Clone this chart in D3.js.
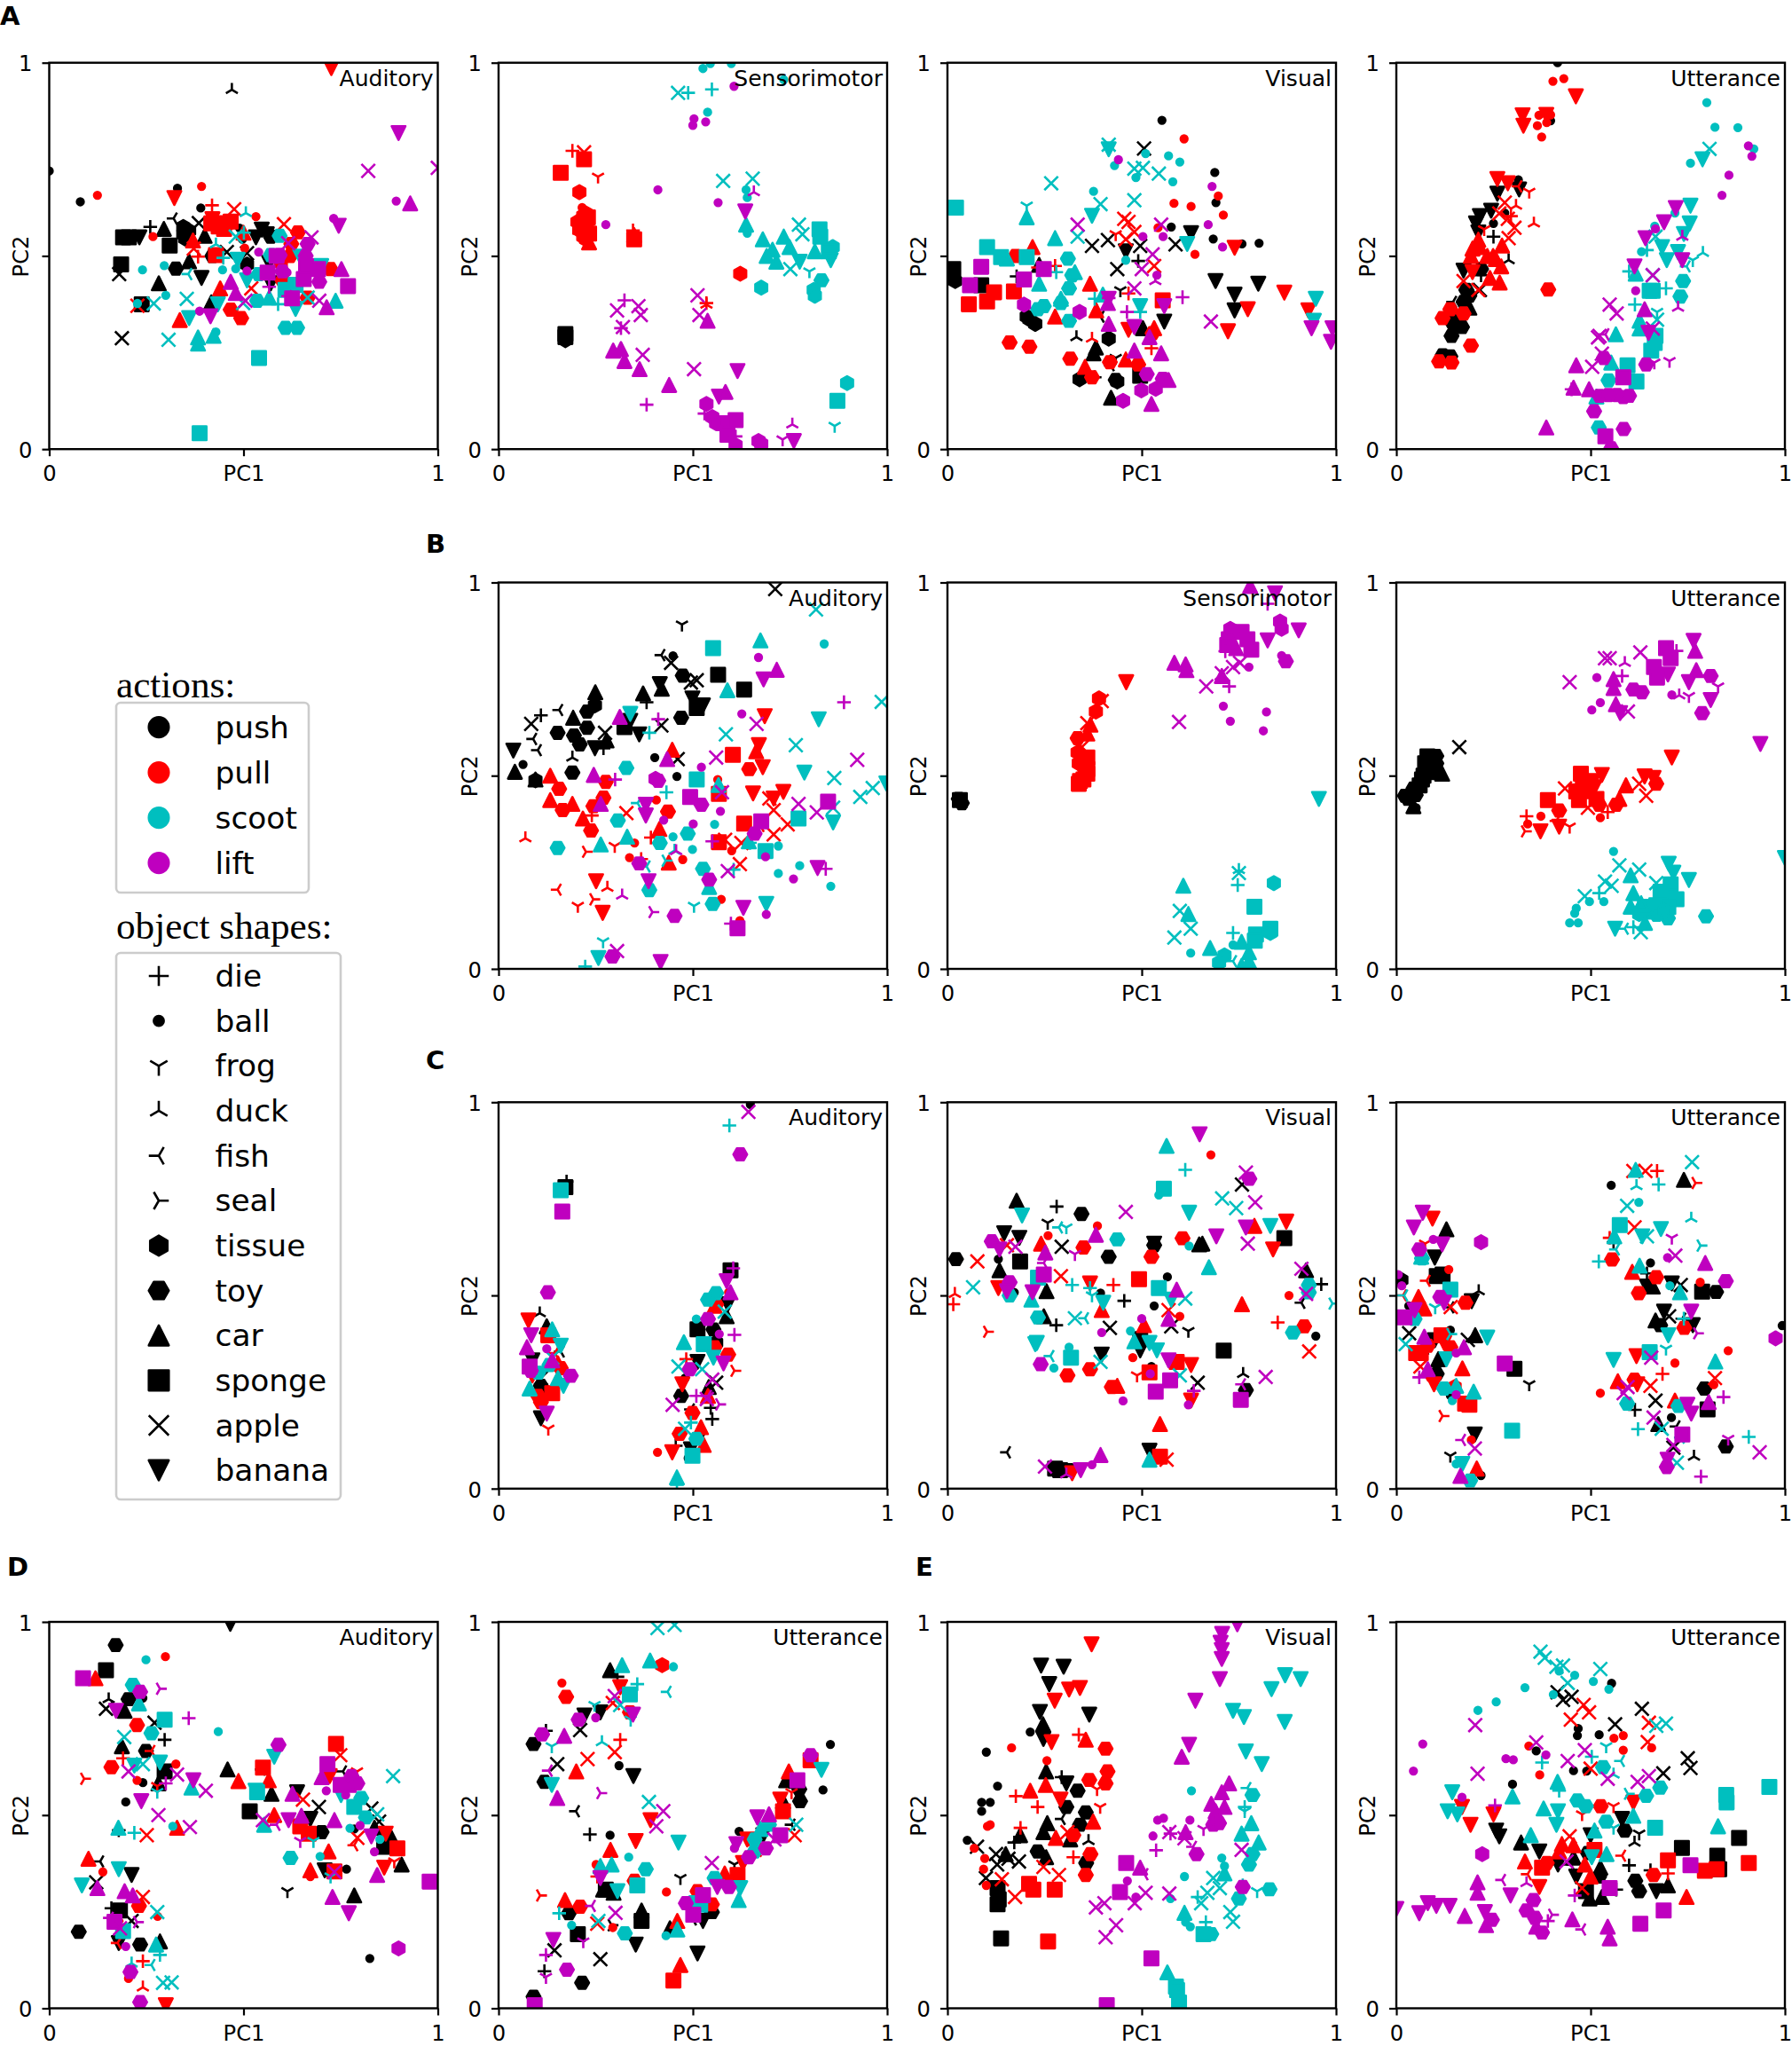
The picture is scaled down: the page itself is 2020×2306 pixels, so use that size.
<!DOCTYPE html>
<html><head><meta charset="utf-8">
<script src="https://cdnjs.cloudflare.com/ajax/libs/d3/7.8.5/d3.min.js"></script>
<style>html,body{margin:0;padding:0;background:#fff}svg{display:block}text{font-family:"DejaVu Sans",sans-serif;fill:#000}</style>
</head><body><div id="chart"></div>
<script>
const actionNames=["push","pull","scoot","lift"];
const actionColors=["#000000","#ff0000","#00bfbf","#bf00bf"];
const shapeNames=["die","ball","frog","duck","fish","seal","tissue","toy","car","sponge","apple","banana"];
const shapeCodes=["+","o","1","2","3","4","h","H","^","s","x","v"];
const axisTicks=[0,.5,1];

const A1_push=[["o",0,.72],["o",.08,.64],["o",.33,.675],["o",.39,.624],["2",.47,.93],["+",.26,.575],["^",.295,.57],["3",.32,.597],["h",.345,.575],["h",.345,.556],["h",.36,.565],["h",.35,.545],["H",.57,.55],["s",.19,.548],["s",.205,.548],["v",.232,.548],["s",.31,.527],["s",.185,.478],["x",.18,.453],["H",.326,.467],["^",.36,.486],["^",.282,.429],["v",.392,.443],["s",.238,.375],["x",.187,.287],["^",.417,.38],["x",.385,.585],["^",.40,.552],["o",.467,.58],["o",.49,.572],["o",.497,.543],["x",.457,.51],["x",.509,.507],["H",.42,.50],["h",.509,.478],["v",.547,.568],["v",.532,.548],["v",.56,.556],["v",.57,.429],["v",.566,.482]];
const A1_pull=[["o",.124,.657],["o",.392,.68],["o",.267,.55],["o",.532,.602],["o",.503,.52],["v",.322,.65],["v",.726,.986],["+",.419,.631],["x",.476,.621],["s",.417,.584],["s",.436,.576],["s",.467,.589],["s",.44,.585],["s",.45,.57],["H",.62,.50],["v",.42,.595],["+",.383,.498],["x",.372,.519],["s",.429,.502],["^",.44,.416],["^",.336,.334],["H",.467,.361],["H",.494,.339],["x",.227,.371],["x",.604,.582],["H",.64,.561],["H",.623,.531],["h",.596,.482],["H",.60,.437],["H",.724,.466],["x",.52,.416],["H",.665,.392],["^",.37,.54],["^",.5,.56]];
const A1_scoot=[["o",.24,.464],["o",.296,.475],["o",.30,.398],["o",.446,.464],["o",.48,.467],["o",.227,.377],["o",.429,.303],["2",.506,.611],["3",.358,.453],["x",.269,.377],["x",.354,.389],["x",.307,.283],["v",.36,.339],["v",.434,.375],["^",.383,.289],["^",.383,.273],["^",.423,.293],["s",.54,.236],["s",.387,.041],["H",.593,.552],["H",.57,.502],["H",.539,.453],["H",.535,.384],["H",.608,.314],["H",.638,.314],["v",.646,.498],["v",.509,.437],["^",.566,.392],["^",.737,.384],["s",.608,.412],["s",.634,.425],["v",.634,.363],["v",.70,.474],["x",.499,.378],["+",.589,.375],["x",.665,.392],["+",.501,.56],["x",.48,.55],["2",.429,.53],["+",.448,.495],["v",.485,.49]];
const A1_lift=[["v",.899,.818],["x",.821,.72],["x",1,.728],["o",.893,.642],["^",.929,.636],["o",.732,.597],["v",.745,.578],["H",.665,.531],["x",.675,.548],["H",.593,.502],["H",.66,.50],["s",.585,.50],["H",.6,.46],["s",.655,.44],["x",.615,.533],["s",.661,.474],["s",.692,.466],["H",.695,.433],["^",.752,.466],["s",.769,.422],["^",.714,.367],["x",.695,.384],["^",.467,.433],["^",.48,.404],["x",.505,.384],["o",.509,.461],["o",.539,.51],["o",.612,.457],["v",.415,.344],["o",.387,.357],["+",.566,.42],["3",.615,.396],["s",.625,.39],["s",.562,.457]];

const A2_push=[["s",.172,.29],["s",.172,.298],["h",.172,.282]];
const A2_pull=[["+",.19,.772],["x",.22,.768],["s",.22,.75],["s",.16,.715],["1",.256,.705],["h",.208,.665],["o",.215,.625],["s",.22,.588],["h",.218,.604],["h",.203,.588],["s",.225,.573],["h",.211,.565],["s",.233,.558],["h",.225,.543],["^",.233,.535],["h",.218,.55],["h",.225,.61],["s",.21,.575],["s",.23,.6],["^",.349,.554],["+",.346,.566],["s",.349,.543],["h",.622,.454],["2",.535,.374],["+",.535,.378]];
const A2_scoot=[["o",.526,.985],["o",.545,.998],["o",.599,.998],["o",.734,.956],["x",.462,.922],["+",.488,.922],["+",.549,.931],["o",.538,.872],["x",.578,.694],["x",.654,.70],["o",.637,.671],["o",.64,.651],["^",.637,.581],["o",.64,.559],["^",.68,.543],["^",.734,.55],["x",.773,.581],["x",.782,.556],["s",.826,.569],["s",.828,.55],["h",.86,.523],["^",.749,.523],["^",.705,.516],["^",.69,.50],["^",.814,.512],["s",.85,.512],["v",.855,.489],["^",.715,.485],["x",.751,.466],["v",.775,.485],["1",.80,.46],["H",.831,.437],["h",.811,.412],["h",.814,.397],["h",.676,.418],["s",.872,.125],["h",.897,.171],["1",.865,.06]];
const A2_lift=[["o",.606,.939],["o",.503,.855],["o",.533,.847],["o",.50,.838],["o",.41,.671],["o",.276,.581],["o",.565,.638],["2",.657,.665],["v",.635,.615],["x",.512,.398],["x",.305,.359],["+",.324,.385],["x",.36,.37],["x",.366,.347],["x",.517,.347],["^",.538,.332],["x",.32,.316],["+",.315,.313],["^",.295,.255],["^",.315,.259],["x",.371,.244],["^",.324,.228],["^",.363,.207],["x",.503,.207],["v",.615,.202],["^",.439,.166],["+",.381,.115],["^",.584,.148],["v",.567,.136],["h",.535,.117],["+",.53,.092],["s",.61,.075],["s",.581,.067],["h",.55,.083],["h",.56,.067],["s",.589,.037],["+",.61,.033],["h",.61,.01],["h",.669,.021],["h",.676,.014],["1",.731,.025],["v",.76,.021],["2",.756,.064]];

const A3_push=[["o",.552,.851],["o",.688,.716],["o",.691,.638],["o",.684,.544],["o",.576,.575],["o",.758,.531],["o",.802,.533],["x",.506,.778],["v",.627,.559],["x",.587,.53],["x",.372,.526],["x",.413,.541],["x",.496,.526],["v",.459,.512],["x",.437,.466],["+",.491,.487],["1",.445,.411],["v",.69,.435],["v",.739,.40],["v",.80,.428],["v",.739,.359],["v",.558,.33],["s",.015,.466],["s",.007,.45],["h",.02,.435],["s",.087,.424],["+",.178,.447],["^",.236,.477],["h",.211,.336],["h",.226,.324],["h",.204,.343],["2",.332,.29],["^",.382,.263],["h",.415,.286],["^",.376,.248],["1",.433,.236],["3",.42,.217],["h",.34,.181],["+",.379,.186],["H",.433,.179],["h",.437,.175],["^",.421,.133],["s",.496,.19],["^",.503,.313],["3",.394,.343]];
const A3_pull=[["o",.609,.803],["o",.697,.655],["o",.583,.636],["o",.627,.628],["o",.71,.606],["o",.542,.573],["o",.637,.504],["v",.739,.521],["x",.455,.596],["x",.466,.588],["x",.481,.562],["x",.459,.543],["1",.433,.556],["x",.532,.474],["+",.233,.47],["+",.277,.474],["^",.219,.523],["H",.175,.50],["s",.12,.406],["s",.102,.382],["s",.171,.408],["s",.055,.375],["^",.367,.428],["+",.466,.403],["v",.867,.405],["v",.773,.362],["v",.722,.305],["v",.929,.359],["H",.16,.276],["H",.211,.265],["^",.277,.343],["^",.383,.359],["H",.316,.234],["^",.354,.213],["^",.459,.232],["H",.491,.219],["H",.418,.225],["H",.372,.186],["2",.372,.286],["+",.525,.261],["s",.554,.385],["v",.466,.309],["^",.532,.313],["H",.528,.30]];
const A3_scoot=[["s",.022,.625],["s",.102,.523],["s",.138,.497],["s",.204,.497],["^",.153,.493],["x",.267,.688],["1",.204,.63],["^",.204,.60],["^",.277,.546],["v",.372,.604],["x",.394,.634],["x",.335,.55],["o",.376,.667],["v",.415,.776],["x",.415,.788],["o",.43,.734],["o",.51,.765],["o",.569,.759],["o",.598,.743],["o",.485,.703],["x",.481,.726],["x",.503,.728],["x",.544,.713],["o",.58,.692],["x",.481,.644],["v",.617,.531],["H",.31,.493],["H",.321,.45],["^",.328,.458],["^",.236,.428],["+",.28,.458],["H",.313,.416],["^",.292,.389],["H",.292,.378],["H",.248,.37],["H",.233,.362],["H",.313,.332],["+",.379,.389],["^",.40,.40],["v",.496,.37],["+",.496,.355],["o",.459,.489],["v",.948,.389],["v",.943,.332]];
const A3_lift=[["o",.44,.749],["o",.681,.68],["o",.671,.581],["o",.555,.55],["o",.503,.55],["o",.708,.523],["x",.335,.581],["x",.55,.581],["x",.528,.504],["x",.50,.466],["x",.481,.416],["2",.535,.435],["o",.539,.45],["s",.087,.472],["s",.248,.466],["s",.058,.424],["s",.197,.439],["h",.197,.374],["h",.34,.355],["^",.413,.378],["v",.415,.389],["+",.415,.391],["+",.605,.393],["x",.678,.33],["+",.462,.355],["v",.481,.316],["^",.415,.324],["^",.52,.29],["^",.481,.255],["^",.55,.248],["H",.513,.194],["h",.499,.152],["h",.536,.156],["H",.554,.182],["^",.569,.179],["h",.452,.125],["^",.525,.117],["v",.558,.37],["v",.937,.313],["v",.991,.313],["v",.987,.278]];

const A4_push=[["o",.415,1],["o",.397,.85],["o",.314,.697],["v",.316,.672],["v",.26,.661],["v",.244,.617],["v",.215,.603],["v",.205,.584],["v",.211,.561],["o",.279,.611],["o",.25,.584],["+",.25,.55],["2",.289,.489],["v",.173,.462],["H",.218,.466],["+",.218,.45],["H",.18,.412],["H",.188,.397],["H",.173,.381],["3",.146,.381],["^",.188,.366],["^",.15,.351],["H",.146,.324],["H",.169,.316],["H",.142,.293],["H",.119,.243],["H",.139,.24],["x",.215,.412]];
const A4_pull=[["o",.431,.959],["o",.403,.952],["v",.462,.913],["v",.325,.864],["v",.327,.837],["v",.386,.865],["o",.367,.864],["o",.397,.865],["o",.363,.837],["o",.387,.845],["o",.374,.808],["v",.26,.699],["v",.287,.688],["3",.314,.68],["1",.342,.666],["x",.279,.638],["2",.308,.63],["x",.265,.61],["2",.354,.584],["+",.295,.603],["x",.287,.596],["1",.226,.569],["x",.304,.573],["x",.289,.546],["^",.211,.542],["^",.196,.519],["^",.215,.523],["^",.192,.50],["^",.234,.50],["^",.249,.50],["^",.272,.527],["^",.256,.492],["^",.27,.473],["^",.241,.443],["^",.266,.431],["x",.173,.435],["x",.211,.412],["v",.196,.458],["H",.391,.413],["H",.192,.268],["H",.142,.224],["H",.11,.227],["H",.119,.339],["H",.139,.362],["H",.173,.351]];
const A4_scoot=[["o",.799,.897],["o",.82,.833],["o",.879,.832],["o",.92,.777],["o",.757,.74],["x",.806,.777],["v",.788,.75],["v",.757,.63],["v",.755,.584],["v",.74,.557],["o",.717,.611],["o",.665,.577],["x",.667,.55],["+",.645,.515],["o",.631,.511],["v",.684,.523],["v",.725,.51],["v",.696,.489],["2",.789,.508],["1",.763,.489],["3",.747,.473],["+",.599,.46],["^",.616,.454],["x",.66,.45],["+",.694,.416],["s",.652,.41],["s",.66,.41],["H",.738,.435],["H",.731,.395],["+",.614,.374],["1",.671,.355],["x",.671,.335],["^",.626,.332],["^",.626,.312],["s",.667,.293],["s",.656,.255],["^",.565,.297],["^",.553,.224],["s",.595,.217],["s",.618,.175],["H",.546,.178],["^",.515,.136],["H",.521,.056],["s",.665,.275]];
const A4_lift=[["o",.906,.785],["o",.915,.758],["o",.856,.709],["o",.838,.657],["v",.719,.624],["v",.689,.587],["2",.736,.55],["v",.641,.546],["o",.667,.57],["v",.736,.489],["v",.613,.473],["x",.66,.45],["o",.616,.41],["x",.549,.374],["x",.567,.351],["2",.725,.366],["^",.639,.362],["x",.66,.312],["v",.649,.301],["x",.519,.289],["x",.523,.293],["3",.538,.297],["x",.529,.247],["H",.534,.236],["^",.463,.217],["x",.504,.213],["H",.643,.219],["1",.703,.228],["1",.664,.224],["^",.456,.159],["^",.496,.155],["+",.451,.155],["H",.523,.138],["H",.546,.14],["H",.568,.14],["H",.584,.135],["H",.599,.138],["s",.584,.186],["H",.509,.098],["^",.386,.056],["H",.585,.052],["s",.538,.033],["H",.553,.002]];

const B1_push=[["x",.712,.983],["1",.472,.891],["o",.449,.81],["3",.419,.812],["x",.444,.792],["H",.474,.759],["x",.51,.747],["x",.495,.741],["s",.565,.761],["s",.632,.723],["v",.415,.737],["^",.42,.725],["^",.372,.713],["+",.381,.69],["v",.499,.70],["v",.526,.682],["s",.51,.675],["H",.47,.65],["^",.249,.716],["h",.248,.682],["H",.228,.666],["^",.192,.65],["3",.156,.67],["+",.109,.656],["x",.084,.634],["H",.228,.624],["H",.152,.611],["H",.194,.604],["H",.209,.581],["x",.274,.611],["^",.278,.591],["s",.324,.626],["v",.339,.642],["v",.362,.607],["x",.419,.63],["v",.248,.571],["3",.089,.595],["3",.101,.566],["+",.27,.571],["v",.038,.565],["o",.063,.529],["o",.402,.547],["o",.459,.498],["x",.461,.543],["^",.042,.51],["h",.095,.488],["^",.095,.49],["H",.19,.508],["2",.19,.547]];
const B1_pull=[["v",.685,.654],["v",.67,.579],["^",.663,.563],["s",.603,.554],["H",.645,.517],["v",.68,.522],["^",.447,.567],["^",.133,.50],["H",.156,.466],["H",.276,.484],["H",.27,.443],["^",.133,.437],["^",.19,.427],["H",.165,.411],["H",.244,.421],["+",.24,.397],["^",.217,.389],["H",.238,.358],["x",.329,.403],["o",.406,.437],["H",.436,.407],["^",.414,.362],["+",.392,.34],["o",.35,.326],["o",.337,.288],["+",.367,.284],["o",.474,.283],["^",.438,.275],["2",.069,.338],["1",.299,.318],["4",.225,.303],["v",.251,.227],["2",.28,.21],["3",.152,.205],["4",.244,.18],["1",.204,.163],["v",.268,.145],["o",.564,.49],["s",.567,.453],["v",.655,.454],["x",.697,.441],["v",.708,.441],["v",.733,.458],["x",.708,.411],["x",.744,.374],["s",.632,.376],["3",.674,.37],["x",.708,.348],["s",.567,.328],["x",.625,.326],["x",.583,.334],["x",.621,.271],["o",.60,.306],["o",.573,.18],["o",.621,.125]];
const B1_scoot=[["x",.817,.93],["o",.838,.841],["^",.674,.85],["s",.552,.83],["^",.589,.721],["v",.824,.646],["x",.986,.691],["x",.585,.607],["x",.765,.579],["v",.787,.508],["x",.864,.494],["x",.931,.445],["x",.963,.468],["v",.998,.48],["x",.861,.417],["v",.861,.379],["s",.772,.389],["H",.329,.52],["s",.51,.49],["^",.566,.476],["H",.307,.384],["^",.331,.342],["H",.152,.313],["^",.263,.322],["v",.339,.66],["+",.388,.611],["+",.432,.457],["3",.358,.429],["o",.556,.374],["o",.449,.342],["H",.487,.35],["H",.415,.326],["o",.499,.309],["s",.687,.305],["^",.644,.33],["+",.647,.326],["o",.72,.318],["o",.775,.267],["o",.72,.247],["o",.855,.214],["H",.526,.259],["+",.605,.257],["^",.542,.212],["H",.388,.204],["3",.381,.265],["4",.43,.28],["1",.503,.163],["H",.551,.168],["v",.689,.168],["1",.269,.071],["v",.257,.028],["+",.223,.006],["2",.453,.306]];
const B1_lift=[["o",.669,.806],["^",.716,.774],["v",.682,.749],["o",.626,.66],["x",.664,.634],["^",.312,.652],["+",.889,.69],["+",.411,.646],["^",.434,.543],["x",.56,.547],["o",.522,.522],["x",.923,.541],["^",.245,.502],["h",.404,.492],["H",.411,.487],["s",.493,.445],["H",.522,.425],["v",.379,.425],["v",.379,.397],["^",.263,.427],["o",.425,.385],["o",.501,.375],["o",.571,.408],["x",.575,.457],["x",.772,.427],["s",.848,.433],["x",.819,.405],["s",.676,.382],["H",.659,.35],["+",.55,.33],["2",.457,.305],["H",.362,.273],["o",.687,.29],["v",.386,.227],["H",.542,.231],["x",.59,.253],["o",.759,.233],["v",.821,.261],["+",.842,.259],["2",.318,.19],["4",.396,.147],["H",.453,.137],["v",.63,.158],["o",.689,.141],["+",.598,.117],["s",.615,.105],["x",.305,.046],["H",.293,.032],["v",.417,.018],["+",.3,.49]];

const B2_push=[["H",.029,.44],["H",.037,.429],["s",.032,.437]];
const B2_pull=[["v",.46,.742],["x",.397,.693],["h",.382,.666],["^",.368,.632],["x",.36,.636],["^",.36,.609],["H",.335,.597],["x",.346,.574],["s",.36,.547],["h",.338,.532],["s",.36,.517],["s",.355,.53],["h",.335,.56],["s",.35,.49],["s",.341,.486],["s",.36,.505],["s",.338,.479],["h",.39,.70]];
const B2_scoot=[["v",.956,.44],["x",.75,.248],["2",.75,.256],["h",.84,.222],["+",.747,.217],["^",.607,.215],["s",.79,.161],["x",.598,.15],["^",.62,.142],["x",.626,.104],["x",.584,.081],["s",.831,.104],["h",.831,.093],["s",.794,.089],["s",.791,.073],["+",.735,.093],["o",.735,.062],["^",.757,.07],["^",.676,.054],["o",.626,.041],["h",.713,.035],["h",.699,.016],["3",.735,.02],["^",.776,.043],["^",.776,.02],["^",.757,.008]];
const B2_lift=[["^",.779,.991],["v",.843,.972],["+",.824,.945],["v",.904,.876],["h",.856,.899],["h",.86,.88],["v",.824,.85],["s",.724,.853],["h",.728,.88],["s",.757,.872],["s",.72,.838],["s",.782,.826],["^",.743,.83],["s",.772,.853],["+",.715,.822],["H",.871,.796],["o",.86,.811],["^",.584,.792],["^",.613,.788],["^",.615,.773],["x",.753,.792],["x",.735,.781],["o",.776,.781],["x",.706,.765],["^",.706,.758],["x",.666,.731],["+",.725,.731],["o",.71,.68],["o",.821,.665],["o",.728,.641],["o",.813,.616],["x",.596,.639]];

const B3_push=[["x",.162,.574],["s",.081,.544],["s",.074,.532],["H",.103,.551],["H",.103,.532],["s",.088,.509],["^",.118,.505],["s",.066,.49],["H",.044,.467],["H",.022,.448],["o",.051,.417],["^",.044,.421],["H",.03,.44],["s",.08,.55],["s",.095,.52],["s",.07,.5],["s",.06,.475],["H",.09,.53],["H",.05,.45]];
const B3_pull=[["v",.709,.547],["s",.475,.505],["v",.529,.502],["s",.5,.486],["s",.48,.48],["s",.49,.46],["v",.51,.47],["v",.639,.498],["v",.662,.494],["H",.669,.479],["^",.591,.475],["x",.643,.448],["x",.625,.479],["^",.574,.44],["H",.566,.425],["x",.434,.467],["s",.463,.459],["s",.47,.437],["s",.515,.44],["H",.522,.425],["x",.493,.417],["+",.544,.406],["o",.525,.391],["s",.39,.437],["H",.419,.41],["o",.372,.395],["+",.335,.395],["o",.338,.375],["v",.371,.356],["v",.419,.368],["3",.412,.383],["1",.446,.368],["4",.331,.356]];
const B3_scoot=[["v",1,.287],["o",.559,.304],["x",.574,.268],["x",.625,.257],["v",.701,.272],["v",.713,.249],["v",.753,.23],["^",.603,.242],["x",.537,.226],["x",.554,.215],["x",.669,.222],["+",.522,.196],["x",.485,.188],["o",.497,.174],["o",.534,.174],["o",.463,.157],["o",.459,.144],["o",.446,.119],["o",.468,.119],["^",.61,.196],["s",.706,.219],["s",.721,.18],["s",.669,.165],["H",.699,.131],["H",.656,.146],["^",.603,.161],["h",.625,.142],["s",.699,.188],["s",.64,.161],["s",.68,.2],["H",.67,.14],["^",.63,.17],["s",.7,.16],["H",.797,.136],["v",.563,.104],["3",.588,.104],["+",.61,.108],["^",.64,.119],["x",.629,.095],["h",.69,.15]];
const B3_lift=[["v",.937,.582],["v",.765,.849],["^",.769,.823],["s",.694,.83],["+",.721,.823],["s",.706,.804],["x",.628,.819],["x",.537,.804],["x",.549,.804],["2",.588,.792],["o",.516,.754],["+",.581,.758],["^",.559,.75],["s",.663,.781],["v",.699,.762],["s",.671,.754],["x",.446,.742],["^",.559,.727],["H",.61,.723],["H",.632,.716],["^",.772,.773],["H",.809,.758],["v",.753,.742],["1",.828,.731],["2",.728,.708],["1",.753,.706],["o",.709,.709],["v",.809,.696],["H",.787,.662],["o",.525,.689],["o",.503,.67],["^",.565,.685],["v",.576,.662],["x",.596,.666]];

const C1_push=[["2",.106,.454],["^",.124,.42],["v",.087,.332],["3",.16,.355],["x",.109,.286],["H",.109,.266],["v",.109,.182],["s",.172,.78],["+",.175,.795],["s",.597,.565],["o",.648,.994],["v",.59,.477],["^",.587,.446],["s",.512,.412],["H",.553,.412],["h",.56,.378],["v",.512,.328],["x",.56,.274],["^",.541,.263],["o",.48,.286],["H",.47,.24],["+",.546,.209],["+",.55,.18],["3",.495,.205],["+",.456,.111],["v",.495,.102],["o",.488,.079],["3",.524,.132]];
const C1_pull=[["v",.077,.435],["s",.128,.397],["3",.145,.351],["^",.153,.324],["H",.16,.312],["v",.087,.293],["s",.138,.247],["H",.102,.24],["H",.109,.224],["1",.128,.155],["o",.592,.508],["H",.56,.477],["^",.556,.473],["+",.483,.335],["o",.59,.347],["H",.556,.366],["H",.591,.347],["4",.607,.305],["v",.473,.27],["^",.539,.24],["H",.499,.196],["^",.521,.159],["H",.466,.142],["^",.528,.113],["o",.409,.094],["v",.447,.094]];
const C1_scoot=[["s",.16,.772],["+",.594,.94],["^",.138,.412],["v",.16,.37],["H",.131,.32],["x",.138,.339],["^",.08,.259],["v",.167,.266],["^",.153,.286],["H",.102,.30],["H",.56,.506],["H",.539,.489],["x",.582,.458],["o",.509,.439],["^",.477,.379],["s",.528,.374],["v",.553,.339],["x",.463,.316],["x",.524,.309],["+",.495,.171],["x",.48,.155],["H",.509,.129],["s",.499,.085],["^",.459,.029],["+",.459,.01]];
const C1_lift=[["x",.643,.975],["H",.622,.865],["s",.164,.717],["H",.127,.508],["v",.084,.397],["^",.073,.366],["o",.124,.362],["s",.08,.316],["^",.138,.332],["H",.186,.292],["H",.083,.305],["v",.124,.194],["+",.604,.57],["v",.587,.537],["^",.597,.508],["H",.539,.439],["+",.607,.398],["o",.568,.40],["v",.579,.324],["H",.492,.309],["x",.55,.282],["3",.539,.24],["x",.448,.217],["4",.568,.218],["+",.509,.24],["x",.536,.232]];

const C2_push=[["^",.178,.745],["+",.281,.73],["H",.345,.711],["1",.258,.688],["v",.146,.661],["v",.185,.649],["H",.022,.594],["o",.131,.594],["s",.187,.588],["^",.134,.565],["x",.294,.626],["H",.415,.6],["H",.532,.63],["v",.532,.634],["^",.656,.634],["^",.648,.632],["x",.758,.787],["s",.867,.648],["^",.923,.565],["+",.962,.529],["o",.566,.548],["o",.172,.508],["^",.255,.511],["o",.394,.506],["+",.455,.486],["o",.532,.473],["3",.911,.481],["o",.948,.395],["^",.248,.446],["+",.28,.423],["x",.418,.416],["x",.576,.42],["1",.62,.408],["s",.496,.387],["v",.496,.358],["v",.397,.347],["s",.711,.357],["o",.525,.316],["x",.644,.274],["2",.761,.297],["H",.768,.255],["3",.153,.094],["v",.52,.098],["s",.277,.052],["s",.29,.048],["H",.313,.048]];
const C2_pull=[["o",.678,.864],["v",.872,.691],["^",.79,.68],["v",.838,.619],["H",.605,.648],["H",.525,.6],["H",.35,.624],["^",.241,.634],["o",.259,.655],["o",.386,.68],["x",.077,.588],["x",.153,.63],["x",.292,.55],["s",.493,.542],["+",.427,.527],["v",.367,.531],["v",.131,.519],["2",.019,.504],["+",.015,.477],["o",.879,.5],["^",.758,.477],["+",.85,.43],["H",.918,.42],["x",.931,.355],["4",.102,.406],["^",.397,.462],["x",.569,.462],["o",.598,.446],["^",.506,.423],["o",.477,.339],["s",.52,.301],["s",.59,.328],["v",.627,.32],["H",.309,.293],["H",.367,.309],["1",.488,.293],["H",.423,.263],["^",.437,.266],["v",.627,.228],["^",.547,.167],["s",.547,.083],["x",.564,.075],["v",.321,.04]];
const C2_scoot=[["^",.564,.887],["+",.612,.825],["s",.557,.776],["o",.544,.76],["x",.707,.751],["x",.743,.726],["v",.622,.714],["v",.192,.707],["v",.831,.68],["1",.306,.676],["3",.287,.676],["H",.437,.645],["o",.622,.628],["^",.673,.573],["x",.066,.521],["s",.233,.546],["+",.321,.527],["+",.367,.519],["1",.372,.5],["H",.16,.5],["^",.216,.489],["s",.544,.519],["v",.576,.489],["x",.612,.492],["v",.401,.481],["H",.93,.527],["H",.93,.508],["4",.991,.479],["H",.233,.443],["x",.328,.441],["3",.354,.441],["H",.889,.404],["v",.23,.377],["v",.226,.374],["o",.313,.366],["s",.318,.339],["o",.274,.312],["3",.265,.343],["o",.471,.408],["^",.481,.381],["v",.52,.377],["v",.539,.358],["x",.394,.328],["x",.598,.293],["^",.52,.075]];
const C2_lift=[["v",.649,.917],["x",.768,.818],["H",.777,.802],["x",.792,.741],["x",.459,.716],["v",.768,.676],["x",.773,.634],["v",.692,.653],["^",.382,.657],["H",.114,.64],["v",.134,.619],["^",.252,.611],["x",.175,.626],["1",.328,.607],["3",.248,.584],["s",.248,.554],["H",.16,.534],["v",.153,.511],["v",.219,.508],["x",.911,.569],["x",.923,.504],["^",.59,.515],["^",.569,.439],["o",.5,.44],["o",.397,.404],["H",.24,.322],["o",.522,.297],["s",.573,.28],["s",.536,.251],["x",.819,.289],["+",.634,.253],["3",.758,.27],["s",.755,.23],["o",.452,.227],["o",.62,.217],["v",.569,.332],["x",.251,.057],["^",.394,.087],["o",.372,.062],["v",.343,.048],["2",.306,.037]];

const C3_push=[["^",.129,.671],["o",.553,.785],["^",.74,.799],["+",.559,.638],["o",.654,.584],["v",.099,.598],["s",.119,.554],["s",.104,.55],["h",.013,.54],["2",.212,.511],["o",.032,.473],["3",.139,.469],["v",.194,.485],["x",.033,.402],["v",.099,.384],["o",.139,.41],["x",.184,.385],["^",.203,.397],["3",.074,.362],["^",.108,.335],["H",.104,.297],["o",.139,.241],["s",.304,.31],["1",.342,.27],["+",.645,.557],["v",.709,.531],["x",.732,.527],["v",.645,.523],["^",.66,.523],["s",.787,.51],["H",.823,.509],["v",.689,.458],["x",.702,.446],["3",.736,.44],["^",.667,.435],["H",.679,.423],["v",.763,.423],["o",.993,.422],["H",.793,.259],["x",.667,.228],["+",.614,.204],["s",.801,.205],["o",.708,.184],["3",.721,.161],["^",.674,.167],["x",.713,.106],["H",.848,.109],["2",.766,.083],["v",.202,.14],["1",.139,.085],["o",.218,.034]];
const C3_pull=[["v",.093,.699],["1",.074,.634],["o",.135,.567],["3",.078,.538],["^",.057,.496],["3",.017,.5],["^",.072,.466],["H",.178,.481],["x",.14,.47],["s",.116,.397],["s",.051,.351],["s",.063,.351],["H",.081,.37],["v",.123,.377],["H",.139,.366],["x",.062,.316],["3",.074,.293],["^",.17,.311],["v",.097,.27],["h",.15,.263],["s",.188,.217],["s",.177,.22],["4",.119,.188],["o",.193,.126],["^",.207,.052],["x",.61,.822],["x",.641,.822],["+",.671,.822],["x",.613,.676],["+",.549,.649],["4",.77,.791],["H",.555,.593],["^",.607,.561],["H",.669,.547],["o",.782,.534],["H",.624,.506],["H",.741,.416],["v",.618,.343],["+",.685,.297],["o",.717,.325],["o",.854,.357],["x",.82,.286],["o",.817,.269],["x",.654,.266],["^",.57,.278],["H",.613,.282],["v",.62,.27],["o",.525,.247],["^",.717,.228]];
const C3_scoot=[["x",.761,.845],["^",.616,.825],["+",.675,.787],["2",.618,.783],["o",.624,.741],["x",.594,.732],["s",.575,.682],["2",.759,.699],["v",.681,.672],["x",.645,.653],["v",.633,.653],["^",.561,.653],["4",.783,.629],["+",.521,.588],["3",.565,.619],["^",.626,.577],["o",.704,.525],["^",.73,.508],["+",.74,.44],["v",.70,.397],["1",.694,.362],["s",.652,.353],["v",.559,.333],["^",.821,.329],["H",.594,.22],["H",.726,.214],["+",.622,.154],["x",.683,.155],["3",.732,.132],["+",.907,.134],["x",.722,.067],["s",.298,.15],["H",.066,.596],["^",.064,.6],["s",.139,.515],["3",.02,.5],["1",.10,.469],["H",.047,.439],["x",.024,.374],["4",.139,.40],["v",.129,.335],["^",.154,.266],["H",.123,.259],["^",.199,.251],["o",.144,.228],["v",.17,.064],["o",.154,.064],["H",.19,.021],["v",.234,.391]];
const C3_lift=[["v",.068,.714],["v",.045,.676],["o",.095,.645],["v",.118,.632],["H",.059,.619],["h",.218,.638],["o",.005,.554],["o",.014,.525],["H",.113,.496],["v",.123,.481],["s",.021,.443],["v",.047,.462],["^",.072,.393],["o",.154,.351],["^",.174,.366],["^",.081,.309],["+",.059,.288],["o",.154,.243],["s",.279,.324],["3",.169,.126],["x",.202,.104],["^",.165,.033],["o",.698,.598],["x",.718,.603],["^",.795,.584],["H",.848,.537],["v",.759,.458],["4",.774,.402],["h",.976,.389],["x",.656,.339],["x",.595,.263],["x",.585,.247],["+",.842,.237],["^",.804,.224],["s",.736,.14],["v",.749,.217],["v",.759,.194],["x",.662,.184],["1",.709,.649],["1",.854,.129],["x",.935,.094],["x",.713,.113],["+",.784,.031],["v",.698,.075],["H",.696,.056]];

const D1_push=[["v",.466,.995],["H",.171,.94],["s",.146,.875],["2",.153,.80],["H",.204,.80],["o",.241,.803],["x",.146,.775],["^",.194,.77],["x",.271,.739],["+",.297,.695],["^",.187,.678],["H",.249,.666],["s",.297,.613],["^",.281,.582],["o",.241,.584],["o",.197,.534],["^",.459,.618],["3",.547,.618],["^",.572,.555],["v",.638,.559],["s",.516,.51],["x",.694,.521],["v",.672,.49],["+",.179,.461],["H",.701,.456],["3",.756,.613],["x",.829,.517],["o",.785,.464],["^",.837,.467],["x",.849,.483],["^",.881,.441],["s",.862,.418],["^",.907,.372],["v",.709,.357],["o",.765,.36],["1",.613,.303],["^",.785,.292],["x",.121,.326],["3",.131,.38],["v",.212,.345],["+",.16,.259],["x",.212,.226],["s",.182,.253],["H",.076,.198],["v",.179,.169],["H",.234,.165],["^",.285,.173],["o",.825,.129]];
const D1_pull=[["o",.299,.91],["^",.119,.854],["H",.226,.733],["3",.263,.666],["+",.19,.647],["H",.16,.624],["o",.326,.632],["4",.09,.594],["o",.226,.59],["1",.278,.575],["s",.738,.684],["x",.749,.655],["s",.55,.623],["^",.565,.59],["^",.487,.588],["v",.722,.601],["o",.785,.594],["1",.792,.613],["x",.653,.54],["^",.579,.50],["s",.646,.471],["s",.668,.452],["x",.793,.441],["3",.785,.422],["v",.866,.452],["s",.896,.414],["^",.719,.406],["^",.672,.357],["o",.672,.341],["s",.734,.354],["v",.862,.364],["1",.888,.38],["x",.251,.448],["^",.329,.467],["^",.101,.387],["o",.138,.353],["x",.241,.288],["H",.231,.265],["o",.279,.238],["H",.171,.226],["3",.176,.169],["+",.241,.122],["o",.204,.077],["2",.241,.054],["v",.3,.008]];
const D1_scoot=[["o",.249,.902],["H",.215,.837],["^",.231,.789],["s",.297,.747],["H",.263,.712],["o",.435,.716],["x",.193,.702],["v",.219,.628],["x",.241,.632],["v",.285,.636],["^",.366,.571],["1",.278,.56],["v",.579,.651],["v",.531,.563],["s",.535,.559],["x",.885,.601],["v",.751,.552],["H",.803,.544],["s",.785,.521],["H",.815,.494],["x",.844,.502],["o",.774,.466],["o",.318,.471],["^",.178,.467],["+",.219,.454],["^",.553,.475],["o",.851,.437],["H",.621,.389],["o",.697,.393],["1",.68,.433],["1",.724,.341],["v",.179,.36],["v",.084,.318],["x",.278,.249],["s",.19,.20],["^",.275,.165],["+",.285,.138],["2",.212,.116],["3",.263,.112],["x",.293,.066],["x",.315,.067]];
const D1_lift=[["s",.087,.854],["H",.234,.819],["4",.285,.827],["v",.172,.77],["+",.359,.751],["x",.204,.613],["x",.329,.605],["v",.371,.59],["x",.403,.563],["+",.3,.582],["v",.237,.536],["x",.281,.50],["x",.362,.469],["H",.59,.682],["s",.716,.632],["^",.701,.598],["o",.713,.563],["s",.75,.578],["s",.771,.578],["H",.778,.601],["H",.793,.582],["o",.763,.552],["^",.626,.555],["x",.55,.487],["v",.616,.487],["3",.585,.475],["^",.649,.498],["^",.734,.487],["o",.8,.473],["v",.829,.445],["o",.837,.405],["1",.646,.433],["x",.734,.353],["^",.844,.345],["^",.729,.288],["v",.771,.246],["h",.899,.155],["s",.979,.328],["^",.124,.311],["^",.194,.303],["^",.215,.292],["4",.226,.223],["3",.156,.234],["s",.168,.224],["x",.182,.207],["o",.197,.16],["H",.209,.094],["H",.234,.016]];

const D2_push=[["^",.287,.875],["+",.306,.858],["v",.221,.758],["v",.262,.766],["+",.122,.718],["x",.21,.72],["H",.09,.684],["x",.151,.632],["o",.31,.628],["v",.347,.601],["H",.118,.586],["3",.199,.51],["+",.235,.45],["o",.287,.448],["1",.468,.337],["s",.276,.307],["^",.269,.307],["^",.296,.299],["H",.181,.246],["4",.291,.215],["^",.368,.253],["s",.368,.226],["s",.204,.192],["^",.441,.207],["v",.353,.165],["x",.144,.15],["+",.118,.096],["x",.262,.127],["H",.215,.066],["H",.09,.03],["v",.512,.142],["3",.5,.23],["v",.526,.226],["H",.549,.249],["o",.619,.458],["o",.854,.683],["o",.835,.565],["^",.74,.59],["H",.757,.586],["H",.774,.567],["H",.776,.536],["3",.754,.475],["^",.732,.536],["v",.681,.448],["1",.607,.372]];
const D2_pull=[["o",.163,.842],["H",.174,.806],["H",.338,.766],["v",.313,.831],["x",.294,.79],["o",.421,.888],["h",.421,.888],["+",.313,.695],["x",.299,.663],["x",.229,.645],["^",.2,.613],["v",.391,.487],["v",.353,.433],["^",.288,.41],["o",.251,.372],["+",.254,.341],["H",.35,.33],["o",.432,.301],["4",.107,.292],["^",.171,.28],["H",.21,.263],["x",.254,.219],["o",.294,.209],["^",.468,.112],["s",.45,.072],["^",.46,.226],["H",.512,.303],["H",.549,.269],["^",.582,.349],["s",.615,.345],["v",.629,.376],["x",.659,.41],["v",.725,.54],["s",.732,.51],["1",.754,.559],["^",.747,.613],["s",.803,.642],["x",.762,.448],["v",.64,.437]];
const D2_scoot=[["x",.409,.984],["x",.453,.992],["^",.39,.9],["^",.318,.888],["o",.45,.884],["+",.357,.839],["3",.435,.819],["s",.338,.812],["1",.247,.785],["x",.313,.785],["1",.34,.747],["1",.137,.678],["2",.266,.689],["v",.137,.578],["x",.387,.534],["v",.463,.429],["o",.335,.391],["H",.379,.36],["^",.262,.368],["^",.291,.372],["s",.357,.318],["v",.306,.303],["+",.156,.246],["o",.188,.215],["x",.257,.226],["H",.325,.194],["^",.46,.204],["o",.431,.188],["s",.509,.272],["s",.519,.268],["H",.556,.337],["^",.618,.28],["v",.622,.311],["H",.659,.406],["H",.659,.437],["^",.674,.464],["H",.696,.475],["x",.766,.475],["v",.831,.617]];
const D2_lift=[["s",.093,.008],["1",.122,.081],["+",.122,.138],["v",.141,.177],["H",.176,.1],["1",.218,.173],["3",.24,.265],["x",.301,.247],["4",.262,.557],["^",.151,.544],["3",.129,.615],["H",.112,.709],["^",.169,.705],["H",.206,.747],["o",.25,.752],["x",.299,.808],["v",.346,.76],["v",.262,.337],["x",.424,.51],["x",.406,.471],["x",.549,.376],["v",.563,.314],["H",.593,.314],["s",.526,.293],["s",.501,.242],["H",.482,.272],["v",.612,.425],["o",.607,.414],["H",.644,.391],["H",.688,.414],["x",.71,.437],["s",.725,.448],["v",.666,.494],["^",.696,.502],["s",.769,.59],["H",.803,.655]];

const E1_push=[["v",.241,.887],["v",.299,.884],["v",.262,.839],["v",.238,.767],["^",.246,.735],["o",.213,.715],["v",.365,.76],["v",.247,.697],["o",.1,.663],["^",.254,.613],["+",.294,.598],["v",.306,.582],["o",.129,.575],["o",.088,.533],["o",.11,.533],["o",.088,.51],["H",.335,.563],["H",.306,.521],["H",.356,.507],["H",.341,.475],["^",.257,.479],["^",.247,.456],["3",.294,.49],["o",.051,.435],["x",.076,.418],["^",.187,.448],["+",.172,.429],["2",.363,.433],["^",.316,.437],["^",.15,.399],["H",.232,.406],["^",.254,.391],["x",.125,.399],["x",.157,.387],["x",.184,.38],["x",.128,.372],["H",.357,.376],["x",.099,.337],["s",.129,.311],["s",.132,.282],["s",.129,.269],["s",.138,.181]];
const E1_pull=[["v",.371,.942],["v",.313,.825],["v",.341,.829],["v",.276,.796],["^",.356,.695],["+",.338,.708],["H",.407,.672],["v",.268,.689],["o",.165,.674],["o",.256,.641],["H",.412,.613],["H",.407,.582],["H",.365,.591],["^",.253,.578],["^",.213,.563],["+",.176,.549],["1",.385,.567],["v",.291,.54],["+",.232,.521],["1",.393,.521],["o",.11,.475],["o",.103,.471],["^",.375,.483],["x",.309,.456],["H",.324,.448],["^",.279,.441],["o",.069,.414],["+",.188,.467],["H",.368,.399],["+",.324,.391],["o",.096,.388],["x",.247,.366],["x",.287,.345],["H",.356,.345],["o",.093,.36],["o",.1,.318],["x",.14,.334],["s",.21,.322],["s",.221,.307],["s",.276,.307],["x",.174,.288],["s",.259,.173]];
const E1_scoot=[["v",.869,.862],["v",.909,.852],["v",.834,.826],["v",.735,.77],["v",.763,.754],["v",.868,.741],["v",.768,.665],["v",.809,.632],["o",.628,.563],["H",.785,.552],["^",.782,.479],["^",.757,.452],["+",.765,.521],["1",.765,.51],["^",.801,.429],["3",.772,.57],["H",.785,.399],["H",.776,.372],["o",.706,.389],["o",.713,.368],["^",.713,.349],["o",.61,.341],["x",.684,.337],["x",.701,.311],["x",.669,.299],["+",.644,.288],["x",.653,.272],["1",.797,.303],["H",.829,.308],["H",.75,.284],["+",.76,.318],["o",.574,.284],["^",.61,.247],["o",.613,.223],["o",.625,.211],["x",.728,.249],["x",.735,.224],["+",.665,.223],["H",.662,.192],["H",.679,.192],["s",.659,.192],["^",.566,.093],["s",.588,.056],["s",.591,.047],["s",.596,.015]];
const E1_lift=[["v",.746,.994],["v",.707,.969],["v",.703,.946],["v",.706,.927],["v",.706,.904],["v",.701,.852],["v",.638,.796],["v",.622,.682],["^",.603,.651],["^",.725,.582],["^",.706,.559],["^",.679,.529],["^",.713,.521],["^",.69,.51],["H",.684,.475],["H",.699,.479],["o",.624,.487],["o",.541,.487],["o",.556,.492],["1",.659,.464],["^",.613,.456],["x",.571,.456],["+",.574,.452],["o",.529,.446],["x",.61,.44],["+",.537,.409],["3",.632,.418],["H",.641,.399],["x",.757,.41],["3",.507,.347],["^",.496,.364],["s",.46,.376],["o",.463,.33],["x",.51,.299],["x",.571,.297],["s",.444,.301],["o",.485,.288],["x",.482,.272],["x",.404,.272],["x",.382,.261],["x",.434,.215],["x",.407,.184],["s",.525,.129],["s",.41,.008],["H",.76,.314]];

const E2_push=[["o",.554,.841],["x",.415,.818],["x",.429,.798],["x",.451,.806],["x",.632,.775],["x",.563,.735],["o",.468,.724],["o",.466,.706],["o",.522,.708],["o",.36,.666],["o",.456,.615],["o",.49,.614],["x",.75,.647],["x",.757,.622],["x",.687,.608],["o",.299,.58],["v",.581,.49],["H",.588,.46],["1",.625,.452],["2",.613,.429],["v",.5,.448],["v",.257,.46],["v",.265,.445],["s",.735,.415],["^",.321,.429],["v",.368,.406],["H",.493,.402],["v",.416,.372],["s",.826,.395],["s",.831,.36],["s",.882,.441],["^",.525,.364],["+",.599,.37],["v",.463,.341],["^",.456,.39],["H",.522,.341],["H",.615,.33],["H",.625,.303],["v",.669,.303],["^",.699,.318],["+",.654,.357],["s",.488,.303],["^",.497,.284],["^",.529,.288],["+",.566,.307],["3",.449,.372]];
const E2_pull=[["x",.482,.785],["x",.449,.747],["x",.496,.766],["x",.65,.739],["o",.584,.706],["o",.56,.699],["o",.341,.679],["x",.647,.689],["o",.584,.668],["o",.657,.674],["o",.369,.604],["x",.5,.62],["v",.169,.521],["v",.25,.502],["v",.191,.475],["H",.526,.523],["v",.61,.533],["1",.559,.523],["1",.478,.502],["x",.446,.445],["^",.426,.425],["^",.456,.422],["s",.51,.41],["3",.581,.395],["^",.331,.38],["H",.387,.376],["s",.375,.364],["^",.419,.406],["^",.485,.372],["s",.699,.383],["v",.368,.314],["H",.662,.345],["+",.699,.349],["3",.338,.347],["s",.794,.356],["s",.824,.36],["s",.907,.376],["^",.747,.288],["^",.5,.341],["x",.478,.311]];
const E2_scoot=[["x",.371,.923],["x",.382,.907],["x",.412,.884],["x",.429,.887],["o",.419,.873],["o",.459,.862],["x",.525,.878],["o",.507,.846],["x",.441,.842],["o",.331,.83],["o",.404,.812],["o",.547,.826],["o",.257,.793],["o",.21,.771],["x",.669,.731],["x",.694,.737],["1",.54,.678],["+",.503,.651],["+",.375,.636],["H",.532,.624],["3",.578,.64],["2",.559,.605],["^",.415,.586],["+",.419,.563],["H",.679,.571],["H",.643,.55],["4",.596,.555],["v",.144,.559],["^",.299,.548],["v",.132,.51],["v",.157,.502],["^",.379,.517],["v",.416,.51],["H",.466,.538],["H",.488,.523],["^",.61,.498],["v",.412,.475],["H",.54,.483],["1",.559,.467],["^",.51,.46],["s",.666,.467],["s",.849,.552],["s",.85,.533],["s",.96,.573],["^",.828,.471],["^",.346,.448],["^",.541,.399],["v",.503,.391]];
const E2_lift=[["o",.068,.684],["x",.203,.733],["o",.044,.614],["o",.282,.646],["o",.301,.643],["o",.385,.656],["x",.36,.688],["x",.209,.607],["x",.441,.64],["x",.485,.668],["x",.544,.594],["x",.621,.586],["x",.65,.601],["o",.169,.546],["+",.254,.525],["h",.221,.399],["3",.272,.332],["2",.335,.324],["^",.209,.326],["^",.209,.299],["v",.294,.292],["+",.459,.292],["s",.549,.311],["s",.757,.37],["s",.688,.253],["s",.628,.219],["v",0,.257],["v",.059,.246],["v",.081,.272],["v",.103,.265],["v",.137,.265],["^",.176,.239],["v",.228,.249],["H",.246,.229],["^",.231,.215],["H",.353,.28],["H",.335,.253],["H",.357,.234],["^",.36,.211],["H",.375,.196],["4",.401,.242],["+",.39,.226],["^",.453,.23],["3",.478,.204],["^",.544,.211],["^",.549,.181],["x",.438,.38]];

const panelTable=[
 [0,0,"Auditory",[A1_push,A1_pull,A1_scoot,A1_lift]],
 [0,1,"Sensorimotor",[A2_push,A2_pull,A2_scoot,A2_lift]],
 [0,2,"Visual",[A3_push,A3_pull,A3_scoot,A3_lift]],
 [0,3,"Utterance",[A4_push,A4_pull,A4_scoot,A4_lift]],
 [1,1,"Auditory",[B1_push,B1_pull,B1_scoot,B1_lift]],
 [1,2,"Sensorimotor",[B2_push,B2_pull,B2_scoot,B2_lift]],
 [1,3,"Utterance",[B3_push,B3_pull,B3_scoot,B3_lift]],
 [2,1,"Auditory",[C1_push,C1_pull,C1_scoot,C1_lift]],
 [2,2,"Visual",[C2_push,C2_pull,C2_scoot,C2_lift]],
 [2,3,"Utterance",[C3_push,C3_pull,C3_scoot,C3_lift]],
 [3,0,"Auditory",[D1_push,D1_pull,D1_scoot,D1_lift]],
 [3,1,"Utterance",[D2_push,D2_pull,D2_scoot,D2_lift]],
 [3,2,"Visual",[E1_push,E1_pull,E1_scoot,E1_lift]],
 [3,3,"Utterance",[E2_push,E2_pull,E2_scoot,E2_lift]]
];
const letterTable=[["A",0,28],["B",480,623],["C",480,1205],["D",8,1776],["E",1032,1776]];

const W=2020,H=2306;
const colX=[55.5,562,1068,1574], rowY=[70.7,656.5,1242.3,1828], pw=438, ph=435.5;
const MS=15.4, LW=2.6;
const FS=24.2;

function polygon(n,r,rot){const p=d3.path();for(let i=0;i<n;i++){const a=rot+i*2*Math.PI/n;const x=r*Math.sin(a),y=-r*Math.cos(a);i?p.lineTo(x,y):p.moveTo(x,y);}p.closePath();return p.toString();}
function spokes(r,rot){const p=d3.path();for(let i=0;i<3;i++){const a=rot+i*2*Math.PI/3;p.moveTo(0,0);p.lineTo(r*Math.sin(a),-r*Math.cos(a));}return p.toString();}
function markerPath(code,ms){
  const r=ms/2,p=d3.path();
  switch(code){
    case "+":p.moveTo(-r,0);p.lineTo(r,0);p.moveTo(0,-r);p.lineTo(0,r);return p.toString();
    case "x":p.moveTo(-r,-r);p.lineTo(r,r);p.moveTo(-r,r);p.lineTo(r,-r);return p.toString();
    case "o":p.arc(0,0,r/2,0,2*Math.PI);p.closePath();return p.toString();
    case "c":p.arc(0,0,r,0,2*Math.PI);p.closePath();return p.toString();
    case "1":return spokes(r,Math.PI);
    case "2":return spokes(r,0);
    case "3":return spokes(r,-Math.PI/2);
    case "4":return spokes(r,Math.PI/2);
    case "h":return polygon(6,r,0);
    case "H":return polygon(6,r,Math.PI/6);
    case "^":p.moveTo(0,-r);p.lineTo(r,r);p.lineTo(-r,r);p.closePath();return p.toString();
    case "v":p.moveTo(0,r);p.lineTo(r,-r);p.lineTo(-r,-r);p.closePath();return p.toString();
    case "s":p.rect(-r,-r,ms,ms);return p.toString();
  }
}
const isLine=c=>"+x1234".includes(c);
function drawMarker(sel,code,color,ms,x,y,lw){
  sel.append("path").attr("d",markerPath(code,ms)).attr("transform",`translate(${x},${y})`)
    .attr("fill",isLine(code)?"none":color).attr("stroke",color).attr("stroke-width",lw||LW)
    .attr("stroke-linejoin","round").attr("stroke-linecap","butt");
}

const svg=d3.select("#chart").append("svg").attr("width",W).attr("height",H).attr("viewBox",`0 0 ${W} ${H}`);
svg.append("rect").attr("width",W).attr("height",H).attr("fill","#fff");
const defs=svg.append("defs");

panelTable.forEach(([r,c,title,series],i)=>{
  const g=svg.append("g").attr("transform",`translate(${colX[c]},${rowY[r]})`);
  const x=d3.scaleLinear().domain([0,1]).range([0,pw]);
  const y=d3.scaleLinear().domain([0,1]).range([ph,0]);
  defs.append("clipPath").attr("id","clip"+i).append("rect").attr("width",pw).attr("height",ph);
  const marks=g.append("g").attr("clip-path",`url(#clip${i})`);
  series.forEach((pts,a)=>{pts.forEach(([code,vx,vy])=>drawMarker(marks,code,actionColors[a],MS,x(vx),y(vy)));});
  const xAxis=g.append("g").attr("transform",`translate(0,${ph})`)
    .call(d3.axisBottom(x).tickValues(axisTicks).tickSize(8).tickPadding(11).tickFormat(d=>d===.5?"PC1":d));
  const yAxis=g.append("g")
    .call(d3.axisLeft(y).tickValues(axisTicks).tickSize(8).tickPadding(11).tickFormat(d=>d===.5?"PC2":d));
  [xAxis,yAxis].forEach(a=>{
    a.selectAll("path.domain").remove();
    a.selectAll("line").attr("stroke","#000").attr("stroke-width",2.2);
    a.selectAll("text").style("font-family",'"DejaVu Sans"').style("font-size",FS+"px").attr("fill","#000");
  });
  yAxis.selectAll("text").attr("dy",".38em");
  yAxis.selectAll("text").filter(d=>d===.5).attr("x",0).attr("dy",0).attr("text-anchor","middle")
    .attr("transform",`translate(-24,0) rotate(-90)`);
  g.append("rect").attr("width",pw).attr("height",ph).attr("fill","none").attr("stroke","#000").attr("stroke-width",2.4);
  g.append("text").attr("x",pw-5).attr("y",26).attr("text-anchor","end").style("font-size","25px").text(title);
});

letterTable.forEach(([t,x,y])=>svg.append("text").attr("x",x).attr("y",y).style("font-size","29px").style("font-weight","bold").text(t));

function legend(titleText,titleY,box,names,draw,firstY,step){
  svg.append("text").attr("x",131).attr("y",titleY).style("font-family",'"Liberation Serif"').style("font-size","43.2px").text(titleText);
  svg.append("rect").attr("x",box[0]).attr("y",box[1]).attr("width",box[2]).attr("height",box[3]).attr("rx",5)
    .attr("fill","#fff").attr("stroke","#cccccc").attr("stroke-width",2.6);
  names.forEach((n,i)=>{
    const yy=firstY+i*step;
    draw(i,179,yy);
    svg.append("text").attr("x",242.5).attr("y",yy+12).style("font-size","34.4px").text(n);
  });
}
legend("actions:",786,[131,792,217,214],actionNames,(i,x,y)=>drawMarker(svg,"c",actionColors[i],22.5,x,y),819.6,51);
legend("object shapes:",1058,[131,1074,253,616],shapeNames,(i,x,y)=>drawMarker(svg,shapeCodes[i],"#000",22.5,x,y),1100,50.65);
</script></body></html>
